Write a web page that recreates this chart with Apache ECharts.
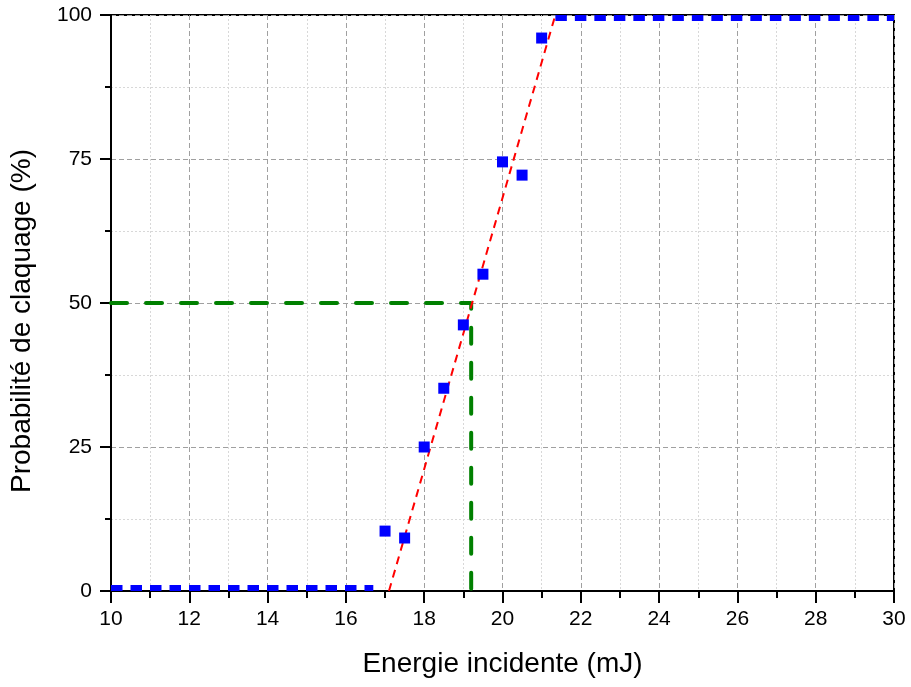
<!DOCTYPE html>
<html><head><meta charset="utf-8">
<script src="https://cdn.jsdelivr.net/npm/echarts@6/dist/echarts.min.js"></script>
<style>html,body{margin:0;padding:0;background:#fff}#c{width:911px;height:687px}</style>
</head><body><div id="c"></div>
<script>
// Measured data
const energy = [17, 17.5, 18, 18.5, 19, 19.5, 20, 20.5, 21];
const probability = [10.4, 9.2, 25.0, 35.2, 46.2, 55.0, 74.5, 72.2, 96.0];
// Plateau levels (blue dashed)
const lowPlateauX = [10, 16.7];
const lowPlateauY = [0.5, 0.5];
const highPlateauX = [21.35, 30];
const highPlateauY = [99.5, 99.5];
// Linear fit (red dashed)
const fitX = [17.1, 21.35];
const fitY = [0, 100];
// 50% threshold (green dashed)
const thresholdX = [10, 19.2, 19.2];
const thresholdY = [50, 50, 0];
// Axis ticks
const xTicks = {min: 10, max: 30, step: 2};
const yTicks = {min: 0, max: 100, step: 25};

const zip = (a, b) => a.map((v, i) => [v, b[i]]);
const font = 'Liberation Sans, Arial, sans-serif';
const chart = echarts.init(document.getElementById('c'), null, {renderer: 'canvas'});
chart.setOption({
  animation: false,
  grid: {left: 111, right: 17, top: 15, bottom: 96, show: true, borderColor: '#000', borderWidth: 2, backgroundColor: 'transparent'},
  xAxis: {
    type: 'value', min: xTicks.min, max: xTicks.max, interval: xTicks.step,
    name: 'Energie incidente (mJ)', nameLocation: 'middle', nameGap: 59,
    nameTextStyle: {fontFamily: font, fontSize: 28, color: '#000'},
    axisLine: {show: true, lineStyle: {color: '#000', width: 2}},
    axisTick: {show: true, inside: false, length: 12, lineStyle: {color: '#000', width: 2}},
    minorTick: {show: true, splitNumber: 2, length: 7, lineStyle: {color: '#000', width: 2}},
    axisLabel: {fontFamily: font, fontSize: 21, color: '#000', margin: 18},
    splitLine: {show: true, lineStyle: {color: '#a0a0a0', width: 1, type: [5, 3]}},
    minorSplitLine: {show: true, lineStyle: {color: '#d8d8d8', width: 1, type: [2, 2]}}
  },
  yAxis: {
    type: 'value', min: yTicks.min, max: yTicks.max, interval: yTicks.step,
    name: 'Probabilité de claquage (%)', nameLocation: 'middle', nameGap: 75,
    nameTextStyle: {fontFamily: font, fontSize: 28, color: '#000', padding: [0, 36, 0, 0]},
    axisLine: {show: true, lineStyle: {color: '#000', width: 2}},
    axisTick: {show: true, inside: false, length: 11, lineStyle: {color: '#000', width: 2}},
    minorTick: {show: true, splitNumber: 2, length: 6, lineStyle: {color: '#000', width: 2}},
    axisLabel: {fontFamily: font, fontSize: 21, color: '#000', margin: 19},
    splitLine: {show: true, lineStyle: {color: '#a0a0a0', width: 1, type: [5, 3]}},
    minorSplitLine: {show: true, lineStyle: {color: '#d8d8d8', width: 1, type: [2, 2]}}
  },
  series: [
    {type: 'line', data: zip(lowPlateauX, lowPlateauY), symbol: 'none', z: 3,
     lineStyle: {color: '#0000ff', width: 6, type: [11.5, 8], cap: 'butt'}},
    {type: 'line', data: zip(highPlateauX, highPlateauY), symbol: 'none', z: 3,
     lineStyle: {color: '#0000ff', width: 6, type: [11.5, 8], cap: 'butt'}},
    {type: 'line', data: zip(thresholdX, thresholdY), symbol: 'none', z: 2,
     lineStyle: {color: '#008000', width: 4, type: [16, 19], cap: 'round'}},
    {type: 'line', data: zip(fitX, fitY), symbol: 'none', z: 4,
     lineStyle: {color: '#ff0000', width: 2, type: [8, 6], cap: 'butt'}},
    {type: 'scatter', data: zip(energy, probability), symbol: 'rect', symbolSize: 11, z: 5,
     itemStyle: {color: '#0000ff', opacity: 1}}
  ]
});
</script></body></html>
